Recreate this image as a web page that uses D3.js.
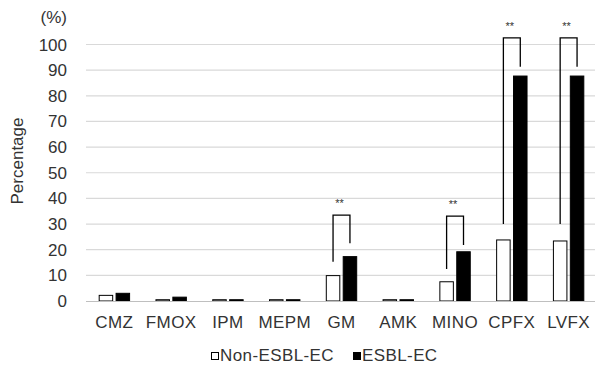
<!DOCTYPE html>
<html>
<head>
<meta charset="utf-8">
<script src="https://cdn.jsdelivr.net/npm/d3@7"></script>
<style>
  body { margin: 0; background: #fff; }
  text { font-family: "Liberation Sans", Arial, sans-serif; fill: #333; }
</style>
</head>
<body>
<div id="chart"></div>
<script>
// data
var categories = ["CMZ", "FMOX", "IPM", "MEPM", "GM", "AMK", "MINO", "CPFX", "LVFX"];
var nonEsbl = [2.2, 0.5, 0.5, 0.5, 9.9, 0.5, 7.5, 23.8, 23.4];
var esbl = [3.0, 1.5, 0.5, 0.5, 17.3, 0.5, 19.2, 87.7, 87.7];
var yTicks = [0, 10, 20, 30, 40, 50, 60, 70, 80, 90, 100];
var seriesNames = ["Non-ESBL-EC", "ESBL-EC"];
// significance brackets: category, left foot, right foot, top
var brackets = [
  ["GM", 15.3, 22.5, 33.5],
  ["MINO", 12.5, 21.8, 33.1],
  ["CPFX", 30, 91.3, 102.6],
  ["LVFX", 30, 91.3, 102.6]
];

var W = 595, H = 367;
var plotLeft = 86, plotRight = 597, plotTop = 44.5, plotBottom = 301;

var svg = d3.select("#chart").append("svg")
  .attr("width", W)
  .attr("height", H);

var x = d3.scaleBand()
  .domain(categories)
  .range([plotLeft, plotRight]);

var y = d3.scaleLinear()
  .domain([0, 100])
  .range([plotBottom, plotTop]);

// gridlines
svg.append("g")
  .selectAll("line")
  .data(yTicks.filter(function(d) { return d > 0; }))
  .enter()
  .append("line")
    .attr("x1", plotLeft)
    .attr("x2", W)
    .attr("y1", function(d) { return y(d); })
    .attr("y2", function(d) { return y(d); })
    .attr("stroke", "#d9d9d9")
    .attr("stroke-width", 1.2);

// y tick labels
svg.append("g")
  .selectAll("text")
  .data(yTicks)
  .enter()
  .append("text")
    .attr("x", 67)
    .attr("y", function(d) { return y(d) + 6; })
    .attr("text-anchor", "end")
    .style("font-size", "17px")
    .text(function(d) { return d; });

svg.append("text")
  .attr("x", 67)
  .attr("y", 23)
  .attr("text-anchor", "end")
  .style("font-size", "17px")
  .text("(%)");

svg.append("text")
  .attr("transform", "translate(23,161) rotate(-90)")
  .attr("text-anchor", "middle")
  .style("font-size", "17px")
  .text("Percentage");

var bw = 13.5, gap = 1.7;

// Non-ESBL bars (open)
svg.append("g")
  .selectAll("rect")
  .data(nonEsbl)
  .enter()
  .append("rect")
    .attr("x", function(d, i) { return x(categories[i]) + x.bandwidth() / 2 - gap - bw; })
    .attr("y", function(d) { return y(d); })
    .attr("width", bw)
    .attr("height", function(d) { return y(0) - y(d); })
    .attr("fill", "#fff")
    .attr("stroke", "#000")
    .attr("stroke-width", 1);

// ESBL bars (filled)
svg.append("g")
  .selectAll("rect")
  .data(esbl)
  .enter()
  .append("rect")
    .attr("x", function(d, i) { return x(categories[i]) + x.bandwidth() / 2 + gap; })
    .attr("y", function(d) { return y(d); })
    .attr("width", bw)
    .attr("height", function(d) { return y(0) - y(d); })
    .attr("fill", "#000")
    .attr("stroke", "#000")
    .attr("stroke-width", 1);

// baseline
svg.append("line")
  .attr("x1", plotLeft)
  .attr("x2", W)
  .attr("y1", y(0) + 0.5)
  .attr("y2", y(0) + 0.5)
  .attr("stroke", "#bfbfbf")
  .attr("stroke-width", 1.2);

// x labels
svg.append("g")
  .selectAll("text")
  .data(categories)
  .enter()
  .append("text")
    .attr("x", function(d) { return x(d) + x.bandwidth() / 2; })
    .attr("y", 328)
    .attr("text-anchor", "middle")
    .style("font-size", "17px")
    .style("letter-spacing", "0.4px")
    .text(function(d) { return d; });

// significance brackets
var bg = svg.append("g");
brackets.forEach(function(b) {
  var c = x(b[0]) + x.bandwidth() / 2;
  var xl = c - gap - bw / 2, xr = c + gap + bw / 2;
  bg.append("path")
    .attr("d", "M" + xl + "," + y(b[1]) + "V" + y(b[3]) + "H" + xr + "V" + y(b[2]))
    .attr("fill", "none")
    .attr("stroke", "#000")
    .attr("stroke-width", 1.3);
  bg.append("text")
    .attr("x", (xl + xr) / 2 - 2)
    .attr("y", y(b[3]) - 8)
    .attr("text-anchor", "middle")
    .style("font-size", "11px")
    .text("**");
});

// legend
var legX = [211, 353];
var lg = svg.append("g");
seriesNames.forEach(function(name, i) {
  lg.append("rect")
    .attr("x", legX[i] + 0.5)
    .attr("y", 352.5)
    .attr("width", 7)
    .attr("height", 7)
    .attr("fill", i === 0 ? "#fff" : "#000")
    .attr("stroke", "#000")
    .attr("stroke-width", 1);
  lg.append("text")
    .attr("x", legX[i] + 9)
    .attr("y", 361)
    .style("font-size", "17px")
    .style("letter-spacing", "0.4px")
    .text(name);
});
</script>
</body>
</html>
